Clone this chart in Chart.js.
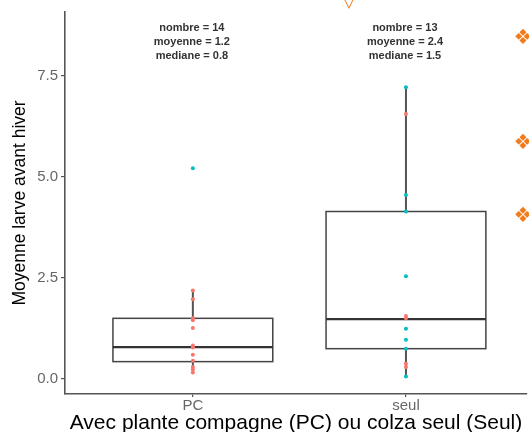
<!DOCTYPE html>
<html><head><meta charset="utf-8">
<script src="https://cdn.jsdelivr.net/npm/chart.js@4"></script>
<style>html,body{margin:0;padding:0;background:#fff}#wrap{width:529px;height:432px;position:relative}</style>
</head><body><div id="wrap"><canvas id="c" width="529" height="432"></canvas></div>
<script>
// ---- data ----
const categories = ['PC', 'seul'];
const pcRed   = [2.19, 1.97, 1.50, 1.45, 1.26, 0.83, 0.80, 0.78, 0.60, 0.45, 0.30, 0.24, 0.16];
const pcBlue  = [5.21];
const seulRed = [6.55, 1.56, 1.50, 0.38, 0.30];
const seulBlue = [7.21, 4.55, 4.14, 2.54, 1.24, 0.97, 0.75, 0.06];
const boxQ1       = [0.43, 0.75];
const boxMedian   = [0.79, 1.48];
const boxQ3       = [1.50, 4.14];
const whiskerLow  = [0.16, 0.06];
const whiskerHigh = [2.19, 7.21];
const annotations = [
  ['nombre = 14', 'moyenne = 1.2', 'mediane = 0.8'],
  ['nombre = 13', 'moyenne = 2.4', 'mediane = 1.5']
];
const yTicks = [0, 2.5, 5, 7.5];
const yTickLabels = ['0.0', '2.5', '5.0', '7.5'];
const xTitle = 'Avec plante compagne (PC) ou colza seul (Seul)';
const yTitle = 'Moyenne larve avant hiver';

const RED = '#F8766D', BLUE = '#00BFC4';
const toPts = (vals, i) => vals.map(v => ({x: i + 1, y: v}));

Chart.defaults.font.family = "'Liberation Sans', Arial, sans-serif";

const boxPlugin = {
  id: 'boxes',
  beforeDatasetsDraw(chart) {
    const {ctx, scales: {x, y}} = chart;
    ctx.save();
    categories.forEach((c, i) => {
      const cx = x.getPixelForValue(i + 1);
      const x0 = x.getPixelForValue(i + 1 - 0.375), x1 = x.getPixelForValue(i + 1 + 0.375);
      // whiskers
      ctx.strokeStyle = '#555'; ctx.lineWidth = 2;
      ctx.beginPath();
      ctx.moveTo(cx, y.getPixelForValue(whiskerHigh[i])); ctx.lineTo(cx, y.getPixelForValue(boxQ3[i]));
      ctx.moveTo(cx, y.getPixelForValue(boxQ1[i])); ctx.lineTo(cx, y.getPixelForValue(whiskerLow[i]));
      ctx.stroke();
      // box
      const yq3 = y.getPixelForValue(boxQ3[i]), yq1 = y.getPixelForValue(boxQ1[i]);
      ctx.fillStyle = '#fff';
      ctx.fillRect(x0, yq3, x1 - x0, yq1 - yq3);
      ctx.strokeStyle = '#444'; ctx.lineWidth = 1.5;
      ctx.strokeRect(x0, yq3, x1 - x0, yq1 - yq3);
      // median
      ctx.strokeStyle = '#333'; ctx.lineWidth = 2.2;
      ctx.beginPath();
      const ym = y.getPixelForValue(boxMedian[i]);
      ctx.moveTo(x0, ym); ctx.lineTo(x1, ym); ctx.stroke();
    });
    ctx.restore();
  },
  afterDraw(chart) {
    const {ctx, scales: {x, y}} = chart;
    ctx.save();
    ctx.font = "bold 11px 'Liberation Sans', Arial, sans-serif";
    ctx.fillStyle = '#333'; ctx.textAlign = 'center'; ctx.textBaseline = 'middle';
    annotations.forEach((lines, i) => {
      const cx = x.getPixelForValue(i + 1) - 1;
      const y0 = y.getPixelForValue(8.67);
      lines.forEach((t, k) => ctx.fillText(t, cx, y0 + k * 14));
    });
    // decorative slide glyphs
    ctx.fillStyle = '#F07C1E';
    ctx.font = "21px 'DejaVu Sans'";
    [39, 144, 217].forEach(py => ctx.fillText('\u2756', 523, py));
    ctx.font = "18px 'DejaVu Sans'";
    ctx.fillText('\u25BD', 349, 2);
    ctx.restore();
  }
};

new Chart(document.getElementById('c'), {
  type: 'scatter',
  data: {
    datasets: [
      {data: toPts(pcRed, 0), backgroundColor: RED},
      {data: toPts(pcBlue, 0), backgroundColor: BLUE},
      {data: toPts(seulRed, 1), backgroundColor: RED},
      {data: toPts(seulBlue, 1), backgroundColor: BLUE}
    ].map(d => Object.assign(d, {pointRadius: 2, pointBorderWidth: 0, pointHoverRadius: 2}))
  },
  options: {
    responsive: false, animation: false, devicePixelRatio: 1,
    layout: {padding: {top: 10, right: 0, bottom: 0, left: 0}},
    plugins: {legend: {display: false}, tooltip: {enabled: false}},
    scales: {
      x: {
        type: 'linear', min: 0.4, max: 2.568,
        afterBuildTicks: s => { s.ticks = categories.map((c, i) => ({value: i + 1})); },
        afterFit: s => { s.height = 38; },
        ticks: {callback: (v, i) => categories[i], font: {size: 15}, color: '#666', padding: 0, maxRotation: 0, autoSkip: false},
        grid: {drawOnChartArea: false, tickLength: 3, color: '#555', lineWidth: 1.2},
        border: {color: '#555', width: 1.6},
        title: {display: true, text: xTitle, font: {size: 21, lineHeight: 0.86}, color: '#000', padding: {top: 0, bottom: 0}}
      },
      y: {
        min: -0.37, max: 9.07,
        afterBuildTicks: s => { s.ticks = yTicks.map(v => ({value: v})); },
        afterFit: s => { s.width = 65; },
        ticks: {callback: (v, i) => yTickLabels[i], font: {size: 15}, color: '#666', padding: 3},
        grid: {drawOnChartArea: false, tickLength: 4, color: '#555', lineWidth: 1.2},
        border: {color: '#555', width: 1.6},
        title: {display: true, text: yTitle, font: {size: 17.5}, color: '#000', padding: {top: 10, bottom: 0}}
      }
    }
  },
  plugins: [boxPlugin]
});
</script>
</body></html>
